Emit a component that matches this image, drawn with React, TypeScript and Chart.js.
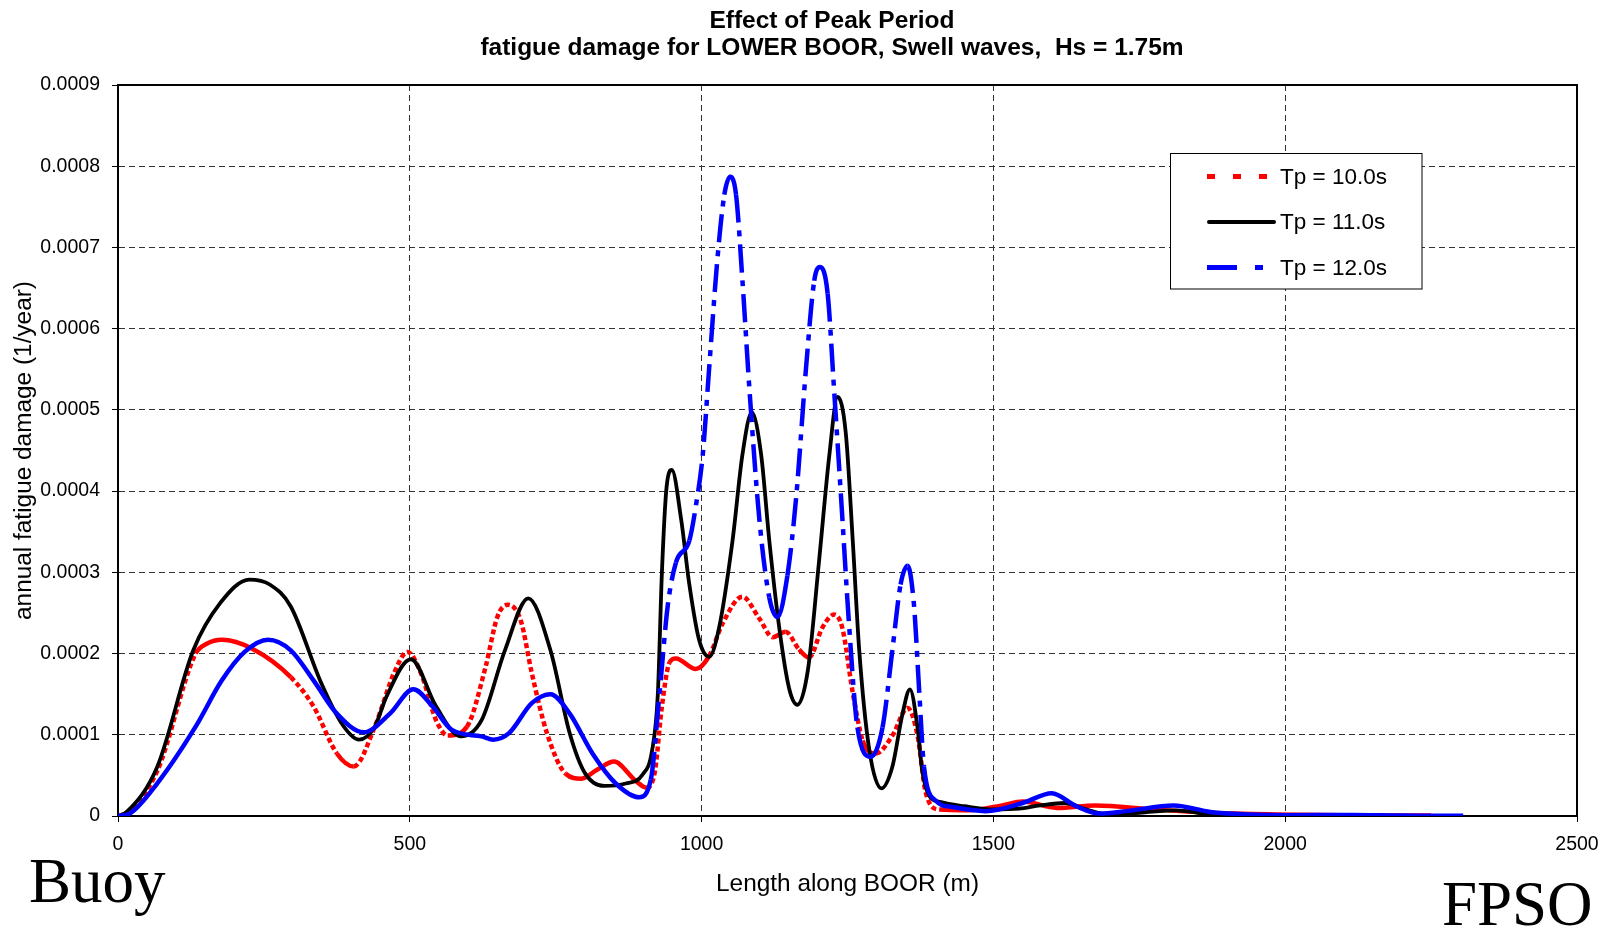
import React, { useEffect, useRef } from 'react';
import { Chart, registerables } from 'chart.js';

Chart.register(...registerables);

// ---------- text ----------
const chartTitle = ['Effect of Peak Period', 'fatigue damage for LOWER BOOR, Swell waves,  Hs = 1.75m'];
const xAxisTitle = 'Length along BOOR (m)';
const yAxisTitle = 'annual fatigue damage (1/year)';
const seriesNames = ['Tp = 10.0s', 'Tp = 11.0s', 'Tp = 12.0s'];
const endLabels = ['Buoy', 'FPSO'];

// ---------- ticks ----------
const xTickValues = [0, 500, 1000, 1500, 2000, 2500];
const xTickLabels = ['0', '500', '1000', '1500', '2000', '2500'];
const yTickValues = [0, 0.0001, 0.0002, 0.0003, 0.0004, 0.0005, 0.0006, 0.0007, 0.0008, 0.0009];
const yTickLabels = ['0', '0.0001', '0.0002', '0.0003', '0.0004', '0.0005', '0.0006', '0.0007', '0.0008', '0.0009'];

// ---------- series: Tp = 10.0s ----------
const tp10X = [0, 15, 67, 133, 152, 178, 230, 296, 335, 375, 404, 440, 473, 496, 519, 545, 565, 598, 630, 650, 668, 690, 709, 735, 767, 794, 821, 850, 886, 905, 920, 932, 945, 956, 990, 1013, 1036, 1070, 1099, 1122, 1144, 1167, 1184, 1207, 1227, 1241, 1259, 1276, 1299, 1327, 1353, 1370, 1384, 1407, 1458, 1515, 1550, 1609, 1675, 1773, 1872, 1983, 2100, 2250];
const tp10Y = [0, 0.04e-4, 0.55e-4, 2.0e-4, 2.12e-4, 2.17e-4, 2.06e-4, 1.71e-4, 1.35e-4, 0.77e-4, 0.61e-4, 1.1e-4, 1.76e-4, 2.02e-4, 1.76e-4, 1.18e-4, 0.99e-4, 1.1e-4, 1.84e-4, 2.45e-4, 2.6e-4, 2.41e-4, 1.76e-4, 1.02e-4, 0.52e-4, 0.46e-4, 0.57e-4, 0.67e-4, 0.44e-4, 0.35e-4, 0.55e-4, 1.35e-4, 1.89e-4, 1.94e-4, 1.81e-4, 1.97e-4, 2.37e-4, 2.7e-4, 2.43e-4, 2.2e-4, 2.27e-4, 2.05e-4, 1.95e-4, 2.32e-4, 2.48e-4, 2.32e-4, 1.52e-4, 0.93e-4, 0.77e-4, 0.99e-4, 1.33e-4, 0.99e-4, 0.29e-4, 0.08e-4, 0.07e-4, 0.13e-4, 0.18e-4, 0.1e-4, 0.13e-4, 0.08e-4, 0.04e-4, 0.02e-4, 0.01e-4, 0.005e-4];

// ---------- series: Tp = 11.0s ----------
const tp11X = [0, 15, 67, 129, 175, 225, 260, 296, 348, 385, 413, 440, 460, 502, 545, 587, 623, 663, 703, 741, 774, 800, 833, 870, 899, 915, 925, 932, 940, 949, 965, 979, 996, 1013, 1030, 1053, 1070, 1086, 1102, 1116, 1133, 1150, 1164, 1182, 1201, 1219, 1233, 1247, 1259, 1270, 1287, 1308, 1327, 1344, 1357, 1370, 1378, 1390, 1410, 1450, 1500, 1544, 1580, 1623, 1660, 1695, 1750, 1813, 1860, 1900, 1950, 2250];
const tp11Y = [0, 0.05e-4, 0.6e-4, 2.04e-4, 2.62e-4, 2.91e-4, 2.85e-4, 2.58e-4, 1.64e-4, 1.12e-4, 0.94e-4, 1.1e-4, 1.47e-4, 1.93e-4, 1.35e-4, 0.98e-4, 1.18e-4, 2.04e-4, 2.68e-4, 2.04e-4, 1.02e-4, 0.53e-4, 0.37e-4, 0.4e-4, 0.51e-4, 0.8e-4, 1.5e-4, 3.0e-4, 4.05e-4, 4.26e-4, 3.65e-4, 2.85e-4, 2.16e-4, 1.96e-4, 2.32e-4, 3.39e-4, 4.45e-4, 4.97e-4, 4.45e-4, 3.39e-4, 2.32e-4, 1.57e-4, 1.37e-4, 1.79e-4, 3.12e-4, 4.45e-4, 5.16e-4, 4.72e-4, 3.39e-4, 2.05e-4, 0.83e-4, 0.34e-4, 0.61e-4, 1.25e-4, 1.56e-4, 1.09e-4, 0.56e-4, 0.25e-4, 0.17e-4, 0.12e-4, 0.08e-4, 0.09e-4, 0.13e-4, 0.16e-4, 0.08e-4, 0.02e-4, 0.04e-4, 0.07e-4, 0.03e-4, 0.005e-4, 0, 0];

// ---------- series: Tp = 12.0s ----------
const tp12X = [0, 20, 67, 133, 178, 217, 257, 296, 335, 375, 421, 466, 506, 539, 572, 623, 643, 670, 709, 741, 774, 813, 853, 893, 913, 928, 942, 956, 979, 990, 1002, 1013, 1027, 1039, 1049, 1059, 1070, 1082, 1099, 1116, 1130, 1147, 1162, 1179, 1193, 1203, 1216, 1227, 1239, 1253, 1267, 1290, 1310, 1327, 1341, 1353, 1364, 1373, 1381, 1401, 1430, 1487, 1550, 1600, 1642, 1681, 1728, 1809, 1872, 1938, 2002, 2115, 2200, 2305];
const tp12Y = [0, 0.03e-4, 0.4e-4, 1.1e-4, 1.67e-4, 2.02e-4, 2.17e-4, 2.04e-4, 1.67e-4, 1.26e-4, 1.03e-4, 1.26e-4, 1.56e-4, 1.35e-4, 1.06e-4, 0.98e-4, 0.94e-4, 1.02e-4, 1.39e-4, 1.5e-4, 1.26e-4, 0.77e-4, 0.4e-4, 0.23e-4, 0.45e-4, 1.52e-4, 2.59e-4, 3.12e-4, 3.39e-4, 3.81e-4, 4.45e-4, 5.52e-4, 6.85e-4, 7.65e-4, 7.87e-4, 7.65e-4, 6.59e-4, 5.25e-4, 3.65e-4, 2.69e-4, 2.45e-4, 2.96e-4, 3.92e-4, 5.52e-4, 6.59e-4, 6.76e-4, 6.43e-4, 5.25e-4, 3.92e-4, 2.32e-4, 1.09e-4, 0.73e-4, 1.09e-4, 2.05e-4, 2.85e-4, 3.08e-4, 2.59e-4, 1.52e-4, 0.61e-4, 0.19e-4, 0.11e-4, 0.06e-4, 0.16e-4, 0.28e-4, 0.12e-4, 0.03e-4, 0.06e-4, 0.13e-4, 0.05e-4, 0.02e-4, 0.01e-4, 0.012e-4, 0.005e-4, 0.004e-4];

const seriesColors = ['#ff0000', '#000000', '#0000ff'];

const SANS = '"Liberation Sans", Arial, Helvetica, sans-serif';
const SERIF = '"Liberation Serif", "Times New Roman", serif';

const toPoints = (xs: number[], ys: number[]) => xs.map((x, i) => ({ x, y: ys[i] }));

const steep = (c: any, thr: number) => {
  const dx = Math.abs(c.p1.x - c.p0.x) || 0.0001;
  const dy = Math.abs(c.p1.y - c.p0.y);
  return dy / dx > thr;
};

const decorPlugin = {
  id: 'decor',
  beforeDatasetsDraw(chart: any) {
    const { ctx, chartArea: a } = chart;
    ctx.save();
    ctx.setLineDash([]);
    ctx.strokeStyle = '#000';
    ctx.lineWidth = 2;
    ctx.strokeRect(a.left, a.top, a.right - a.left, a.bottom - a.top);
    ctx.restore();
  },
  afterDraw(chart: any) {
    const { ctx } = chart;
    ctx.save();
    // titles
    ctx.fillStyle = '#000';
    ctx.textAlign = 'center';
    ctx.textBaseline = 'alphabetic';
    ctx.font = `bold 24.5px ${SANS}`;
    ctx.fillText(chartTitle[0], 832, 27.5);
    ctx.fillText(chartTitle[1], 832, 55);

    // legend box
    const lx = 1170.5, ly = 153.5, lw = 251.5, lh = 135.5;
    ctx.fillStyle = '#fff';
    ctx.fillRect(lx, ly, lw, lh);
    ctx.strokeStyle = '#000';
    ctx.lineWidth = 1;
    ctx.setLineDash([]);
    ctx.strokeRect(lx, ly, lw, lh);
    const rows = [176.5, 222, 267.5];
    const lineStyles = [
      { dash: [8, 18], width: 5, x0: 1207, x1: 1268, cap: 'butt' },
      { dash: [], width: 4, x0: 1209, x1: 1274, cap: 'round' },
      { dash: [30, 18, 8, 18], width: 5, x0: 1207, x1: 1263, cap: 'butt' },
    ];
    lineStyles.forEach((s, i) => {
      ctx.beginPath();
      ctx.setLineDash(s.dash);
      ctx.lineCap = s.cap;
      ctx.lineWidth = s.width;
      ctx.strokeStyle = seriesColors[i];
      ctx.moveTo(s.x0, rows[i]);
      ctx.lineTo(s.x1, rows[i]);
      ctx.stroke();
    });
    ctx.setLineDash([]);
    ctx.fillStyle = '#000';
    ctx.textAlign = 'left';
    ctx.textBaseline = 'middle';
    ctx.font = `22.5px ${SANS}`;
    seriesNames.forEach((n, i) => ctx.fillText(n, 1280, rows[i] + 1));

    // end labels
    ctx.textBaseline = 'alphabetic';
    ctx.font = `63px ${SERIF}`;
    ctx.fillText(endLabels[0], 29, 902);
    ctx.font = `63px ${SERIF}`;
    ctx.fillText(endLabels[1], 1442, 925);
    ctx.restore();
  },
};

export default function App() {
  const ref = useRef<HTMLCanvasElement | null>(null);

  useEffect(() => {
    if (!ref.current) return;
    const chart = new Chart(ref.current, {
      type: 'line',
      data: {
        datasets: [
          {
            label: seriesNames[0],
            data: toPoints(tp10X, tp10Y),
            borderColor: seriesColors[0],
            borderWidth: 4.5,
            borderCapStyle: 'butt',
            order: 3,
            segment: { borderDash: (c: any) => (steep(c, 1.0) ? [5, 3] : undefined) },
          },
          {
            label: seriesNames[1],
            data: toPoints(tp11X, tp11Y),
            borderColor: seriesColors[1],
            borderWidth: 3.8,
            order: 2,
          },
          {
            label: seriesNames[2],
            data: toPoints(tp12X, tp12Y),
            borderColor: seriesColors[2],
            borderWidth: 4.5,
            borderCapStyle: 'butt',
            order: 1,
            segment: { borderDash: (c: any) => (steep(c, 4.5) ? [28, 8, 6, 8] : undefined) },
          },
        ],
      },
      options: {
        responsive: false,
        animation: false,
        devicePixelRatio: 1,
        layout: { padding: { top: 85, right: 40, left: 0, bottom: 0 } },
        plugins: {
          legend: { display: false },
          title: { display: false },
          tooltip: { enabled: false },
        },
        elements: {
          point: { radius: 0, hoverRadius: 0 },
          line: { cubicInterpolationMode: 'monotone', fill: false },
        },
        scales: {
          x: {
            type: 'linear',
            min: 0,
            max: 2500,
            afterFit: (s: any) => {
              s.height = 113;
            },
            afterBuildTicks: (s: any) => {
              s.ticks = xTickValues.map((v) => ({ value: v }));
            },
            ticks: {
              callback: (_v: any, i: number) => xTickLabels[i],
              font: { family: SANS, size: 19.5 },
              color: '#000',
              padding: 11,
              maxRotation: 0,
              autoSkip: false,
            },
            grid: {
              color: '#333',
              lineWidth: 1,
              drawTicks: true,
              tickLength: 6,
              tickColor: '#000',
              tickWidth: 1,
              tickBorderDash: [],
            },
            border: { display: true, color: '#000', width: 2, dash: [6, 4] },
            title: {
              display: true,
              text: xAxisTitle,
              font: { family: SANS, size: 24.4 },
              color: '#000',
              padding: { top: 0, bottom: 30 },
            },
          },
          y: {
            type: 'linear',
            min: 0,
            max: 0.0009,
            afterFit: (s: any) => {
              s.width = 118;
            },
            afterBuildTicks: (s: any) => {
              s.ticks = yTickValues.map((v) => ({ value: v }));
            },
            ticks: {
              callback: (_v: any, i: number) => yTickLabels[i],
              font: { family: SANS, size: 19.5 },
              color: '#000',
              padding: 12,
              autoSkip: false,
            },
            grid: {
              color: '#333',
              lineWidth: 1,
              drawTicks: true,
              tickLength: 6,
              tickColor: '#000',
              tickWidth: 1,
              tickBorderDash: [],
            },
            border: { display: true, color: '#000', width: 2, dash: [6, 4] },
            title: {
              display: true,
              text: yAxisTitle,
              font: { family: SANS, size: 24.4 },
              color: '#000',
              padding: { top: 10, bottom: 0 },
            },
          },
        },
      } as any,
      plugins: [decorPlugin as any],
    });
    return () => chart.destroy();
  }, []);

  return (
    <div style={{ position: 'absolute', left: 0, top: 0, width: 1617, height: 929, background: '#fff' }}>
      <canvas ref={ref} width={1617} height={929} style={{ display: 'block' }} />
    </div>
  );
}
